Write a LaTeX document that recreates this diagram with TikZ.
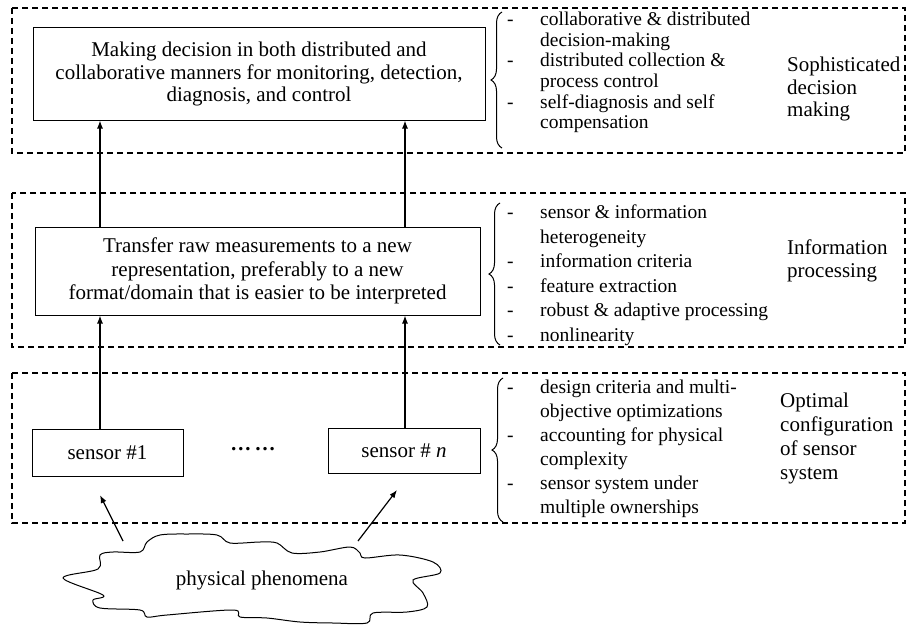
\documentclass[tikz,border=0pt]{standalone}
\usepackage{fontspec}
\setmainfont{Liberation Serif}
\usetikzlibrary{arrows.meta,calc,decorations.pathreplacing}

\begin{document}
\begin{tikzpicture}[x=1pt,y=-1pt,
  box/.style={draw,line width=1pt,align=center,inner sep=0pt,font=\fontsize{21}{22.5}\selectfont},
  zone/.style={draw,dash pattern=on 6pt off 4pt,line width=1.4pt},
  arr/.style={-{Latex[length=8pt,width=6pt]},line width=1.2pt},
  lst/.style={anchor=west,inner sep=0pt},
  lbl/.style={anchor=west,align=left,inner sep=0pt,font=\fontsize{21}{22.5}\selectfont},
  brc/.style={decorate,decoration={brace,amplitude=11pt},line width=1pt}]
 \useasboundingbox(0,0)rectangle(907,626);
 \draw[zone](12,8)rectangle(905,153);
 \draw[zone](12,193)rectangle(905,347);
 \draw[zone](12,373)rectangle(905,523);
 \node[box,minimum width=452,minimum height=92](dec)at(259,74){Making decision in both distributed and\\collaborative manners for monitoring, detection,\\diagnosis, and control};
 \node[box,minimum width=445,minimum height=88,font=\fontsize{21}{23.5}\selectfont](tr)at(257.5,271){Transfer raw measurements to a new\\representation, preferably to a new\\format/domain that is easier to be interpreted};
 \node[box,minimum width=151,minimum height=47](s1)at(107.5,452.5){sensor \#1};
 \node[box,minimum width=152,minimum height=45](sn)at(404,451){sensor \# \textit{n}};
 \node[font=\fontsize{21}{22.5}\selectfont](dots)at(253,449){\textbf{\dots}\,\textbf{\dots}};
 \coordinate(c1)at(100,0);\coordinate(c2)at(405,0);
 \draw[arr](tr.north-|c1)--(dec.south-|c1);
 \draw[arr](tr.north-|c2)--(dec.south-|c2);
 \draw[arr](s1.north-|c1)--(tr.south-|c1);
 \draw[arr](sn.north-|c2)--(tr.south-|c2);
 \draw[brc](502,148)--(502,12);
 \draw[brc](500,345)--(500,203);
 \draw[brc](503,522)--(503,378);
 \node[lst,font=\fontsize{19.5}{20.6}\selectfont](l1)at(507,73){\begin{tabular}{@{}p{33pt}@{}l@{}}
  - & collaborative \& distributed\\ & decision-making\\
  - & distributed collection \&\\ & process control\\
  - & self-diagnosis and self\\ & compensation\end{tabular}};
 \node[lst,font=\fontsize{19.5}{24.5}\selectfont](l2)at(507,275){\begin{tabular}{@{}p{33pt}@{}l@{}}
  - & sensor \& information\\ & heterogeneity\\
  - & information criteria\\
  - & feature extraction\\
  - & robust \& adaptive processing\\
  - & nonlinearity\end{tabular}};
 \node[lst,font=\fontsize{19.5}{24}\selectfont](l3)at(507,449){\begin{tabular}{@{}p{33pt}@{}l@{}}
  - & design criteria and multi-\\ & objective optimizations\\
  - & accounting for physical\\ & complexity\\
  - & sensor system under\\ & multiple ownerships\end{tabular}};
 \node[lbl](t1)at(787,89){Sophisticated\\decision\\making};
 \node[lbl](t2)at(787,261){Information\\processing};
 \node[lbl,font=\fontsize{21}{24}\selectfont](t3)at(780,438){Optimal\\configuration\\of sensor\\system};
 \draw[line width=1pt]plot[smooth cycle,tension=0.55]coordinates{(63,578)(98,569)(100,555)(113,552)(140,552)(147,542)(160,535)(187,534)(217,535)(230,543)(260,542)(277,543)(292,553)(320,552)(350,547)(360,553)(365,558)(400,555)(433,562)(440,573)(413,580)(423,593)(427,607)(407,612)(373,613)(367,623)(333,623)(300,622)(267,618)(240,617)(233,610)(167,615)(147,617)(140,610)(100,608)(93,600)(103,595)};
 \node[font=\fontsize{21}{22.5}\selectfont](ph)at(262,580){physical phenomena};
 \coordinate(p1)at(123,541);\coordinate(q1)at(100,495);
 \coordinate(p2)at(358,541);\coordinate(q2)at(397,490);
 \draw[arr](p1)--(q1);
 \draw[arr](p2)--(q2);
\end{tikzpicture}
\end{document}
